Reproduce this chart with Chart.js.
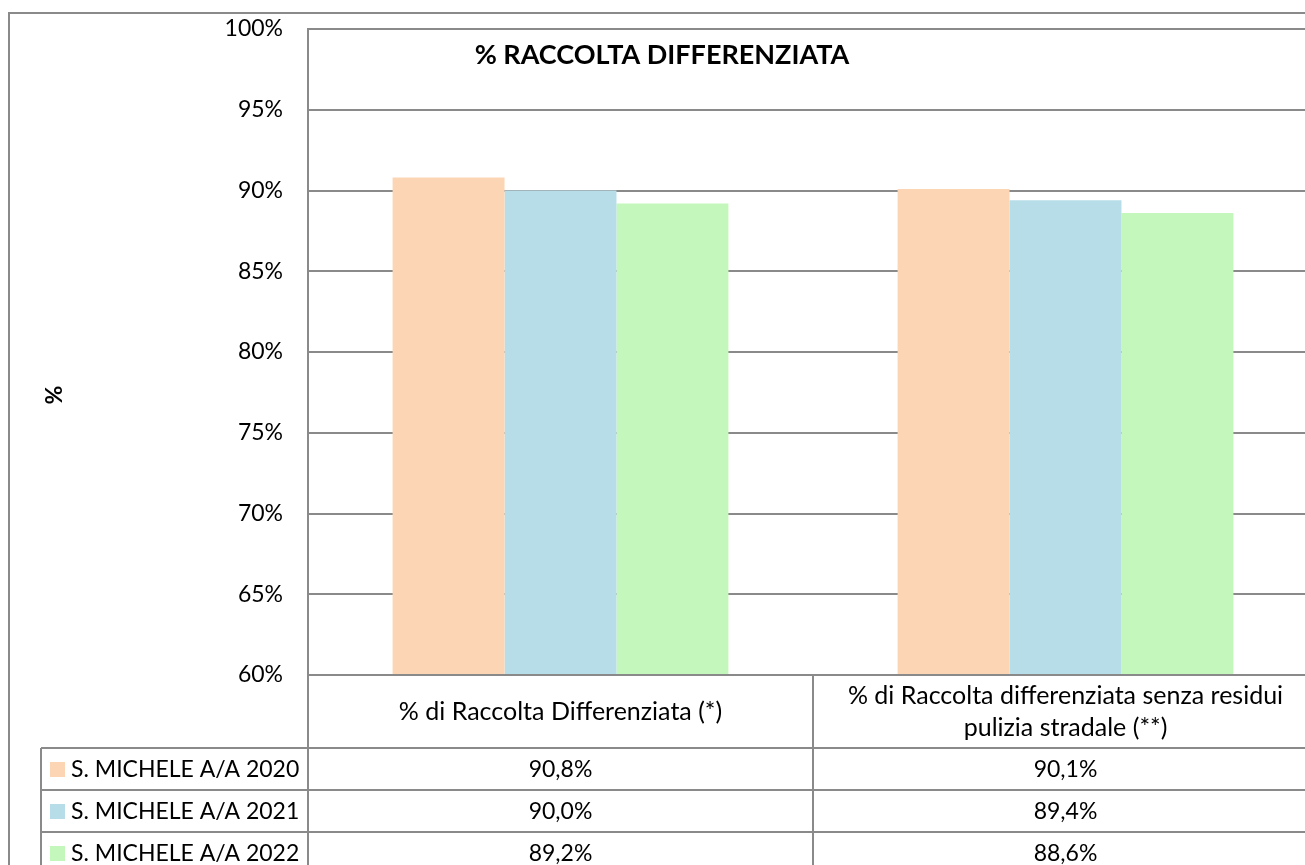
<!DOCTYPE html>
<html>
<head>
<meta charset="utf-8">
<title>% Raccolta differenziata</title>
<script src="https://cdn.jsdelivr.net/npm/chart.js@4.4.1/dist/chart.umd.min.js"></script>
<style>
    html, body { margin: 0; padding: 0; background: #fff; overflow: hidden; }
    #wrap { width: 1330px; height: 900px; }
</style>
</head>
<body>
<div id="wrap"><canvas id="chart" width="1330" height="900"></canvas></div>
<script>
// Dati
const categories = [
    ['% di Raccolta Differenziata (*)'],
    ['% di Raccolta differenziata senza residui', 'pulizia stradale (**)']
];
const seriesNames = ['S. MICHELE A/A 2020', 'S. MICHELE A/A 2021', 'S. MICHELE A/A 2022'];
const values2020 = [90.8, 90.1];
const values2021 = [90.0, 89.4];
const values2022 = [89.2, 88.6];
const yMin = 60;
const yMax = 100;
const yStep = 5;

// Stile
const seriesColors = ['#FCD5B5', '#B7DDE8', '#C4F7BC'];
const lineColor = '#8a8a8a';
const FONT = 'Lato, "Liberation Sans", sans-serif';
const TEXT_SIZE = 23;

const allValues = [values2020, values2021, values2022];

function fmt(v) {
    return v.toFixed(1).replace('.', ',') + '%';
}

// Tabella dati sotto il grafico (stile Excel)
const dataTablePlugin = {
    id: 'dataTable',
    afterDraw(chart) {
        const ctx = chart.ctx;
        const area = chart.chartArea;
        const xs = chart.scales.x;
        const step = xs.getPixelForTick(1) - xs.getPixelForTick(0);
        const headerH = 73;
        const rowH = 42;
        const tableLeft = 41;
        const right = chart.width + 20;
        const bottom = chart.height + 20;

        ctx.save();
        ctx.strokeStyle = lineColor;
        ctx.lineWidth = 2;

        // bordo esterno
        ctx.strokeRect(9, 13, chart.width + 40, chart.height + 40);

        const line = (x1, y1, x2, y2) => {
            ctx.beginPath();
            ctx.moveTo(x1, y1);
            ctx.lineTo(x2, y2);
            ctx.stroke();
        };
        // righe orizzontali
        line(area.left, area.bottom, right, area.bottom);
        for (let i = 0; i <= seriesNames.length; i++) {
            const y = area.bottom + headerH + i * rowH;
            line(tableLeft, y, right, y);
        }
        // righe verticali
        line(tableLeft, area.bottom + headerH, tableLeft, bottom);
        for (let i = 0; i <= categories.length; i++) {
            const x = area.left + i * step;
            line(x, area.bottom, x, bottom);
        }

        // intestazioni categorie
        ctx.fillStyle = '#000';
        ctx.font = `25px ${FONT}`;
        ctx.textAlign = 'center';
        ctx.textBaseline = 'middle';
        const headerMid = area.bottom + headerH / 2;
        categories.forEach((lines, i) => {
            const cx = xs.getPixelForTick(i);
            const lh = 32;
            lines.forEach((txt, j) => {
                ctx.fillText(txt, cx, headerMid + (j - (lines.length - 1) / 2) * lh);
            });
        });

        // righe serie
        ctx.font = `${TEXT_SIZE}px ${FONT}`;
        seriesNames.forEach((name, s) => {
            const cy = area.bottom + headerH + s * rowH + rowH / 2;
            ctx.fillStyle = seriesColors[s];
            ctx.fillRect(50, cy - 7, 15, 15);
            ctx.fillStyle = '#000';
            ctx.textAlign = 'left';
            ctx.fillText(name, 71, cy + 1);
            ctx.textAlign = 'center';
            allValues[s].forEach((v, i) => {
                ctx.fillText(fmt(v), xs.getPixelForTick(i), cy + 1);
            });
        });

        // titolo
        ctx.font = `bold 27px ${FONT}`;
        ctx.fillText('% RACCOLTA DIFFERENZIATA', 662, 55);

        // titolo asse y
        ctx.font = `bold ${TEXT_SIZE}px ${FONT}`;
        ctx.translate(55, 395);
        ctx.rotate(-Math.PI / 2);
        ctx.fillText('%', 0, 0);
        ctx.restore();
    }
};

new Chart(document.getElementById('chart'), {
    type: 'bar',
    data: {
        labels: categories,
        datasets: seriesNames.map((name, s) => ({
            label: name,
            data: allValues[s],
            backgroundColor: seriesColors[s],
            borderWidth: 0,
            categoryPercentage: 0.665,
            barPercentage: 1
        }))
    },
    options: {
        responsive: false,
        animation: false,
        devicePixelRatio: 1,
        layout: { padding: { top: 29, right: 12, left: 0, bottom: 0 } },
        plugins: {
            legend: { display: false },
            tooltip: { enabled: false },
            title: { display: false }
        },
        scales: {
            x: {
                grid: { display: false },
                border: { display: false },
                ticks: { display: false },
                afterFit(scale) { scale.height = 225; }
            },
            y: {
                min: yMin,
                max: yMax,
                ticks: {
                    stepSize: yStep,
                    color: '#000',
                    padding: 25,
                    font: { family: FONT, size: TEXT_SIZE },
                    callback: v => v + '%'
                },
                grid: { color: lineColor, lineWidth: 2, drawTicks: false },
                border: { display: true, color: lineColor, width: 2 },
                afterFit(scale) {
                    scale.width = 308;
                    scale.paddingTop = 0;
                    scale.paddingBottom = 0;
                }
            }
        }
    },
    plugins: [dataTablePlugin]
});
</script>
</body>
</html>
